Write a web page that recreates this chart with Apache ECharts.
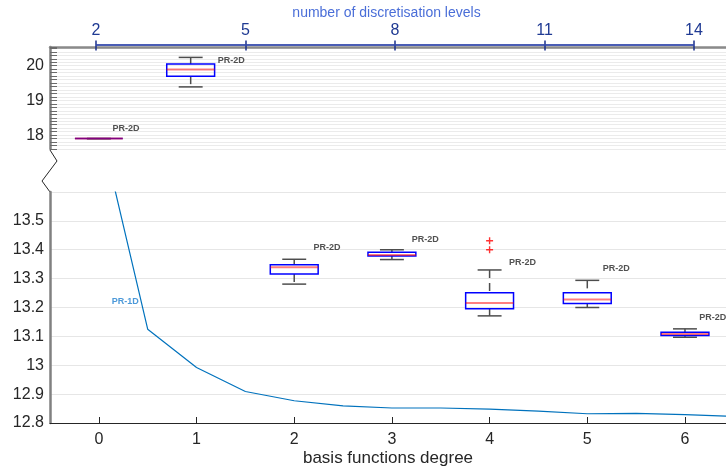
<!DOCTYPE html>
<html>
<head>
<meta charset="utf-8">
<script src="https://cdn.jsdelivr.net/npm/echarts@6/dist/echarts.min.js"></script>
<style>
  html, body { margin: 0; padding: 0; background: #ffffff; }
  #chart { width: 726px; height: 472px; }
</style>
</head>
<body>
<div id="chart"></div>
<script>
// basis functions degree (bottom axis)
const degrees = [0, 1, 2, 3, 4, 5, 6];
// number of discretisation levels (top axis)
const levelTicks = [2, 5, 8, 11, 14];

// PR-2D boxes: [min, q1, median, q3, max]
const upperPos = [0, 0.94];
const upperBoxes = [
  [17.90, 17.90, 17.90, 17.90, 17.90],
  [19.39, 19.70, 19.89, 20.05, 20.24]
];
const lowerPos = [2, 3, 4, 5, 6];
const lowerBoxes = [
  [13.281, 13.316, 13.339, 13.348, 13.367],
  [13.366, 13.378, 13.382, 13.391, 13.400],
  [13.171, 13.196, 13.216, 13.251, 13.330],
  [13.200, 13.214, 13.228, 13.251, 13.294],
  [13.097, 13.103, 13.108, 13.114, 13.126]
];
const outliers = [[4, 13.431], [4, 13.400]];

// PR-1D curve
const pr1dX = [0, 0.5, 1, 1.5, 2, 2.5, 3, 3.5, 4, 4.5, 5, 5.5, 6, 6.5];
const pr1dY = [13.845, 13.125, 12.992, 12.909, 12.877, 12.859, 12.852, 12.852, 12.848, 12.841, 12.832, 12.833, 12.829, 12.823];

// text annotations (data coords)
const upperLabels = [[0.141, 18.19], [1.217, 20.14]];
const lowerLabels = [[2.198, 13.409], [3.203, 13.437], [4.198, 13.357], [5.158, 13.336], [6.146, 13.167]];
const pr1dLabel = [[0.133, 13.22]];

const xMin = -0.5, xMax = 6.42;
const boxWidth = 0.49;
const font = "'Liberation Sans', Arial, sans-serif";

function renderBox(params, api) {
  const x = api.value(0);
  const pLo = api.coord([x, api.value(1)]);
  const pQ1 = api.coord([x, api.value(2)]);
  const pMed = api.coord([x, api.value(3)]);
  const pQ3 = api.coord([x, api.value(4)]);
  const pHi = api.coord([x, api.value(5)]);
  const half = api.size([boxWidth, 0])[0] / 2;
  const cap = half / 2;
  const cx = pMed[0];
  const whisker = { stroke: "#4d4d4d", lineWidth: 1.5, lineDash: [8, 5] };
  const capStyle = { stroke: "#4d4d4d", lineWidth: 1.5 };
  return {
    type: "group",
    children: [
      { type: "line", shape: { x1: cx, y1: pHi[1], x2: cx, y2: pQ3[1] }, style: whisker },
      { type: "line", shape: { x1: cx, y1: pQ1[1], x2: cx, y2: pLo[1] }, style: whisker },
      { type: "line", shape: { x1: cx - cap, y1: pHi[1], x2: cx + cap, y2: pHi[1] }, style: capStyle },
      { type: "line", shape: { x1: cx - cap, y1: pLo[1], x2: cx + cap, y2: pLo[1] }, style: capStyle },
      { type: "rect", shape: { x: cx - half, y: pQ3[1], width: half * 2, height: pQ1[1] - pQ3[1] },
        style: { fill: "none", stroke: "#0000ff", lineWidth: 1.5 } },
      { type: "line", shape: { x1: cx - half, y1: pMed[1], x2: cx + half, y2: pMed[1] },
        style: { stroke: "rgba(255,0,0,0.5)", lineWidth: 2 } }
    ]
  };
}

function labelSeries(data, xi, yi, text, color) {
  return {
    type: "scatter",
    xAxisIndex: xi,
    yAxisIndex: yi,
    symbolSize: 0,
    data: data,
    label: {
      show: true,
      position: "right",
      distance: 0,
      formatter: text,
      fontSize: 9,
      fontWeight: "bold",
      color: color,
      fontFamily: font
    },
    z: 5
  };
}

const chart = echarts.init(document.getElementById("chart"));
chart.setOption({
  animation: false,
  backgroundColor: "#ffffff",
  textStyle: { fontFamily: font },
  grid: [
    { left: 50, top: 47, right: 0, height: 102 },
    { left: 50, top: 192, right: 0, height: 231 },
    { left: 96, top: 44.5, width: 598, height: 1 }
  ],
  xAxis: [
    {
      gridIndex: 0, type: "value", min: xMin, max: xMax, position: "top",
      axisLine: { onZero: false, lineStyle: { color: "#8a8a8a", width: 2.5 } },
      axisTick: { show: false }, axisLabel: { show: false }, splitLine: { show: false }
    },
    {
      gridIndex: 1, type: "value", min: xMin, max: xMax, position: "bottom",
      axisLine: { onZero: false, lineStyle: { color: "#262626", width: 1 } },
      axisTick: { customValues: degrees, inside: true, length: 6, lineStyle: { color: "#262626" } },
      axisLabel: { customValues: degrees, color: "#262626", fontSize: 16, margin: 9 },
      splitLine: { show: false },
      name: "basis functions degree", nameLocation: "middle", nameGap: 27,
      nameTextStyle: { color: "#262626", fontSize: 17 }
    },
    {
      gridIndex: 2, type: "value", min: levelTicks[0], max: levelTicks[levelTicks.length - 1], interval: 3,
      position: "top",
      axisLine: { onZero: false, lineStyle: { color: "#4a5db5", width: 2 } },
      axisTick: { length: 4, lineStyle: { color: "#1a2f8a", width: 1.5 } },
      axisLabel: { color: "#1f3a93", fontSize: 16, margin: 6 },
      splitLine: { show: false },
      name: "number of discretisation levels", nameLocation: "middle", nameGap: 24,
      nameTextStyle: { color: "#4a6ed8", fontSize: 14, padding: [0, 17, 0, 0] }
    },
    {
      gridIndex: 2, type: "value", min: levelTicks[0], max: levelTicks[levelTicks.length - 1], interval: 3,
      position: "top",
      axisLine: { show: false },
      axisTick: { inside: true, length: 5, lineStyle: { color: "#1a2f8a", width: 1.5 } },
      axisLabel: { show: false }, splitLine: { show: false }
    }
  ],
  yAxis: [
    {
      gridIndex: 0, type: "value", min: 17.6, max: 20.54, interval: 0.1,
      axisLine: { show: true, onZero: false, lineStyle: { color: "#808080", width: 2.5 } },
      axisTick: { show: true, inside: true, length: 7, lineStyle: { color: "#6a6a6a" } },
      axisLabel: {
        interval: 0, color: "#262626", fontSize: 16, margin: 6,
        formatter: v => Math.abs(v - Math.round(v)) < 1e-6 ? String(Math.round(v)) : ""
      },
      splitLine: { show: true, lineStyle: { color: "#ebebeb" } }
    },
    {
      gridIndex: 1, type: "value", min: 12.8, max: 13.6, interval: 0.1,
      axisLine: { show: true, onZero: false, lineStyle: { color: "#808080", width: 2.5 } },
      axisTick: { show: false },
      axisLabel: {
        interval: 0, color: "#262626", fontSize: 16, margin: 6,
        formatter: v => Math.abs(v - 13.6) < 1e-6 ? "" : String(+v.toFixed(1))
      },
      splitLine: { show: true, lineStyle: { color: "#e6e6e6" } }
    },
    { gridIndex: 2, type: "value", show: false }
  ],
  graphic: [
    {
      type: "polyline",
      shape: { points: [[50, 150], [57, 161], [42, 181], [50, 192]] },
      style: { stroke: "#262626", lineWidth: 1, fill: null }
    }
  ],
  series: [
    {
      type: "custom", xAxisIndex: 0, yAxisIndex: 0,
      renderItem: renderBox,
      encode: { x: 0, y: [1, 2, 3, 4, 5] },
      data: upperBoxes.map((b, i) => [upperPos[i]].concat(b))
    },
    {
      type: "custom", xAxisIndex: 1, yAxisIndex: 1,
      renderItem: renderBox,
      encode: { x: 0, y: [1, 2, 3, 4, 5] },
      data: lowerBoxes.map((b, i) => [lowerPos[i]].concat(b))
    },
    {
      type: "scatter", xAxisIndex: 1, yAxisIndex: 1,
      symbol: "path://M4,0H6V10H4Z M0,4H10V6H0Z",
      symbolSize: 7,
      itemStyle: { color: "#ff0000" },
      data: outliers
    },
    {
      type: "line", xAxisIndex: 1, yAxisIndex: 1,
      showSymbol: false, clip: true,
      lineStyle: { color: "#0072BD", width: 1.2 },
      data: pr1dX.map((x, i) => [x, pr1dY[i]])
    },
    labelSeries(upperLabels, 0, 0, "PR-2D", "#262626"),
    labelSeries(lowerLabels, 1, 1, "PR-2D", "#262626"),
    labelSeries(pr1dLabel, 1, 1, "PR-1D", "#1f7fd0")
  ]
});
</script>
</body>
</html>
